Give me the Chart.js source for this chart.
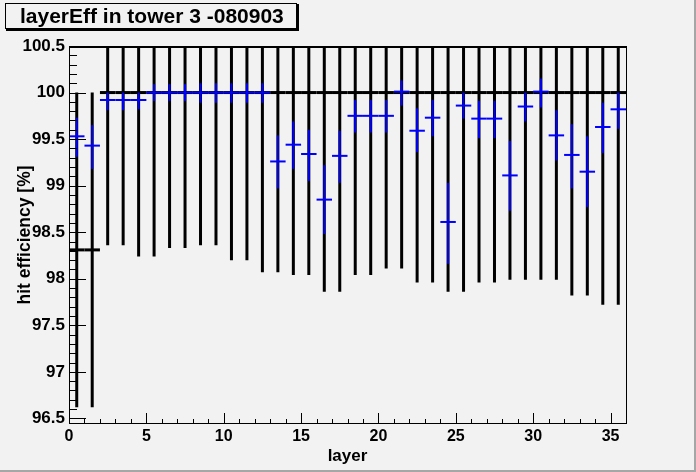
<!DOCTYPE html>
<html>
<head>
<meta charset="utf-8">
<title>layerEff in tower 3 -080903</title>
<script src="https://cdn.jsdelivr.net/npm/chart.js@4/dist/chart.umd.min.js"></script>
<style>
  html, body { margin: 0; padding: 0; background: #f2f2f2; }
  canvas { display: block; }
</style>
</head>
<body>
<canvas id="layerEff" width="696" height="472"></canvas>
<script>
// layer bins (each bin is one unit wide, marks drawn at the bin centre)
const layers = [0, 1, 2, 3, 4, 5, 6, 7, 8, 9, 10, 11, 12, 13, 14, 15, 16, 17,
  18, 19, 20, 21, 22, 23, 24, 25, 26, 27, 28, 29, 30, 31, 32, 33, 34, 35];

// black series (reference efficiency)
const refEff = [98.31, 98.31, 100, 100, 100, 100, 100, 100, 100, 100, 100, 100,
  100, 100, 100, 100, 100, 100, 100, 100, 100, 100, 100, 100, 100, 100, 100, 100,
  100, 100, 100, 100, 100, 100, 100, 100];
const refErr = [1.69, 1.69, 1.64, 1.64, 1.76, 1.76, 1.67, 1.67, 1.64, 1.64, 1.80, 1.80,
  1.93, 1.93, 1.96, 1.96, 2.14, 2.14, 1.96, 1.96, 1.89, 1.89, 2.04, 2.04, 2.14, 2.14,
  2.04, 2.04, 2.01, 2.01, 2.01, 2.01, 2.18, 2.18, 2.28, 2.28];

// blue series (measured efficiency)
const hitEff = [99.53, 99.43, 99.92, 99.92, 99.92, 100.0, 100.0, 100.0, 100.0, 100.0,
  100.0, 100.0, 100.0, 99.26, 99.44, 99.34, 98.85, 99.32, 99.75, 99.75, 99.75, 100.01,
  99.59, 99.73, 98.61, 99.86, 99.72, 99.72, 99.11, 99.85, 100.01, 99.54, 99.33, 99.15,
  99.63, 99.82];
const hitErrUp = [0.20, 0.22, 0.08, 0.08, 0.08, 0.09, 0.09, 0.09, 0.10, 0.10, 0.10, 0.10,
  0.10, 0.28, 0.25, 0.26, 0.37, 0.27, 0.17, 0.17, 0.17, 0.12, 0.24, 0.19, 0.42, 0.14,
  0.19, 0.19, 0.37, 0.15, 0.14, 0.27, 0.33, 0.38, 0.26, 0.18];
const hitErrDown = [0.22, 0.25, 0.11, 0.11, 0.10, 0.09, 0.09, 0.09, 0.11, 0.11, 0.11, 0.11,
  0.11, 0.29, 0.26, 0.29, 0.37, 0.29, 0.18, 0.18, 0.18, 0.15, 0.23, 0.20, 0.45, 0.14,
  0.21, 0.21, 0.38, 0.16, 0.17, 0.27, 0.36, 0.38, 0.28, 0.21];

const titleText = "layerEff in tower 3 -080903";
const xTitle = "layer";
const yTitle = "hit efficiency [%]";

function drawErrors(chart, values, down, up, color, vWidth, hWidth) {
  const { ctx, scales: { x, y } } = chart;
  ctx.strokeStyle = color;
  layers.forEach((l, i) => {
    const xc = x.getPixelForValue(l + 0.5);
    ctx.lineWidth = vWidth;
    ctx.beginPath();
    ctx.moveTo(xc, y.getPixelForValue(values[i] - down[i]));
    ctx.lineTo(xc, y.getPixelForValue(values[i] + up[i]));
    ctx.stroke();
    ctx.lineWidth = hWidth;
    const yc = y.getPixelForValue(values[i]);
    ctx.beginPath();
    ctx.moveTo(x.getPixelForValue(l), yc);
    ctx.lineTo(x.getPixelForValue(l + 1), yc);
    ctx.stroke();
  });
}

const rootLook = {
  id: "rootLook",
  beforeDraw(chart) {
    const { ctx, width, height } = chart;
    ctx.save();
    ctx.fillStyle = "#f2f2f2";
    ctx.fillRect(0, 0, width, height);
    // canvas border shadow
    ctx.fillStyle = "#a6a6a6";
    ctx.fillRect(width - 2, 0, 2, height);
    ctx.fillRect(0, height - 2, width, 2);
    ctx.restore();
  },
  afterDatasetsDraw(chart) {
    const { ctx, chartArea: a, scales: { x, y } } = chart;
    ctx.save();
    ctx.beginPath();
    ctx.rect(a.left, a.top, a.right - a.left, a.bottom - a.top);
    ctx.clip();
    drawErrors(chart, refEff, refErr, refErr, "#000000", 3, 3);
    drawErrors(chart, hitEff, hitErrDown, hitErrUp, "#0000ff", 2, 2);
    ctx.restore();

    ctx.save();
    // frame
    ctx.strokeStyle = "#000000";
    ctx.lineWidth = 1;
    ctx.strokeRect(a.left + 0.5, a.top + 0.5, a.right - a.left, a.bottom - a.top - 1);
    ctx.fillStyle = "#000000";
    ctx.fillRect(a.left, a.top, a.right - a.left + 1, 2);

    // ticks pointing into the frame
    ctx.beginPath();
    y.ticks.forEach((t) => {
      const v = Math.round(t.value * 10);
      if (Math.abs(t.value * 10 - v) > 1e-6) return;
      const len = v % 5 === 0 ? 17 : 8;
      const py = Math.round(y.getPixelForValue(t.value)) + 0.5;
      ctx.moveTo(a.left, py);
      ctx.lineTo(a.left + len, py);
    });
    x.ticks.forEach((t) => {
      const len = t.value % 5 === 0 ? 11 : 5;
      const px = Math.round(x.getPixelForValue(t.value)) + 0.5;
      ctx.moveTo(px, a.bottom);
      ctx.lineTo(px, a.bottom - len);
    });
    ctx.stroke();

    // axis titles
    ctx.fillStyle = "#000000";
    ctx.font = "bold 17px 'Liberation Sans', Arial, sans-serif";
    ctx.textAlign = "center";
    ctx.textBaseline = "middle";
    ctx.fillText(xTitle, (a.left + a.right) / 2, 456);
    ctx.save();
    ctx.translate(25, (a.top + a.bottom) / 2);
    ctx.rotate(-Math.PI / 2);
    ctx.font = "bold 17.5px 'Liberation Sans', Arial, sans-serif";
    ctx.fillText(yTitle, 0, 0);
    ctx.restore();

    // title box with shadow
    ctx.fillStyle = "#f2f2f2";
    ctx.fillRect(5, 3, 292, 26);
    ctx.strokeRect(5.5, 3.5, 291, 25);
    ctx.fillStyle = "#000000";
    ctx.fillRect(297, 4, 2, 27);
    ctx.fillRect(6, 29, 293, 2);
    ctx.font = "bold 21px 'Liberation Sans', Arial, sans-serif";
    ctx.textAlign = "left";
    ctx.fillText(titleText, 20, 17);
    ctx.restore();
  }
};

new Chart("layerEff", {
  type: "scatter",
  data: {
    datasets: [
      {
        label: "reference",
        data: layers.map((l, i) => ({ x: l + 0.5, y: refEff[i] })),
        pointRadius: 0,
        showLine: false,
      },
      {
        label: "hit efficiency",
        data: layers.map((l, i) => ({ x: l + 0.5, y: hitEff[i] })),
        pointRadius: 0,
        showLine: false,
      },
    ],
  },
  options: {
    responsive: false,
    devicePixelRatio: 1,
    animation: false,
    layout: { autoPadding: false, padding: { left: 0, top: 46, right: 70, bottom: 0 } },
    plugins: { legend: { display: false }, tooltip: { enabled: false } },
    scales: {
      x: {
        type: "linear",
        min: 0,
        max: 36,
        grid: { display: false, drawTicks: false, tickLength: 0 },
        border: { display: false },
        afterFit: (s) => { s.height = 48; },
        ticks: {
          stepSize: 1,
          autoSkip: false,
          maxRotation: 0,
          padding: 3,
          color: "#000000",
          font: { family: "'Liberation Sans', Arial, sans-serif", size: 16, weight: "bold" },
          callback: (v) => (v % 5 === 0 && v < 36 ? String(v) : ""),
        },
      },
      y: {
        type: "linear",
        min: 96.44,
        max: 100.5,
        grid: { display: false, drawTicks: false, tickLength: 0 },
        border: { display: false },
        afterFit: (s) => { s.width = 69; },
        ticks: {
          stepSize: 0.1,
          includeBounds: false,
          autoSkip: false,
          padding: 4,
          color: "#000000",
          font: { family: "'Liberation Sans', Arial, sans-serif", size: 17, weight: "bold" },
          callback: (v) => {
            const h = Math.round(v * 2);
            return Math.abs(v * 2 - h) < 1e-6 ? String(h / 2) : "";
          },
        },
      },
    },
  },
  plugins: [rootLook],
});
</script>
</body>
</html>
